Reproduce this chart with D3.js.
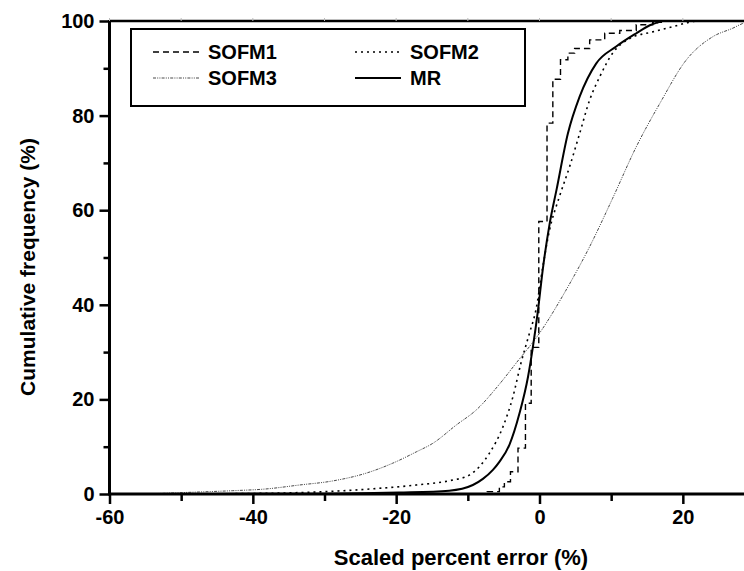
<!DOCTYPE html>
<html>
<head>
<meta charset="utf-8">
<script src="https://cdn.jsdelivr.net/npm/d3@7"></script>
<style>
  body { margin: 0; background: #fff; }
  svg { display: block; }
  text { font-family: "Liberation Sans", Arial, sans-serif; font-weight: bold; fill: #000; }
</style>
</head>
<body>
<svg id="chart" width="744" height="571"></svg>
<script>
// cumulative frequency curves, [scaled percent error, cumulative %]
const sofm1 = [[-60, 0], [-7.3, 0.5], [-5.6, 1.5], [-4.9, 2.6], [-4.05, 4.7], [-3.0, 9.7], [-1.96, 19.2],
  [-1.16, 31], [-0.1, 57.6], [1.05, 78.4], [1.86, 87.7], [2.93, 91.8], [3.96, 93.2], [4.9, 94.2],
  [7.0, 96], [9.1, 97.4], [11.2, 98], [13.5, 99.2], [15.8, 99.7], [17, 100], [30, 100]];
const sofm2 = [[-60, 0], [-45, 0.05], [-33.5, 0.3], [-24.2, 1.0], [-17.2, 1.9], [-12.6, 2.8], [-9.8, 4],
  [-7, 8.6], [-5.1, 14.2], [-3.7, 20.6], [-2.6, 27.6], [-1.4, 34], [-0.5, 38.9], [0.46, 48], [1.4, 55.8],
  [2.7, 62.5], [4.2, 69.2], [5.6, 76.2], [7, 83.3], [8.4, 88.2], [10.2, 93.2], [12.6, 96.3],
  [15.8, 97.7], [18.6, 98.8], [20.3, 99.5], [22, 100], [30, 100]];
const sofm3 = [[-55, 0], [-49.8, 0.3], [-42.8, 0.7], [-38.2, 1.06], [-33.5, 1.9], [-28.9, 2.75],
  [-24.2, 4.4], [-20.5, 6.5], [-17.2, 8.9], [-14.9, 10.7], [-11.6, 14.6], [-8.8, 17.8], [-5.6, 23.2],
  [-3.3, 27.6], [0, 34], [3.7, 43.1], [7, 52.3], [10.2, 62.5], [13.5, 73.4], [16.8, 82.6],
  [20.5, 91.8], [24.2, 96.7], [27, 98.5], [28.4, 99.5], [30, 100]];
const mr = [[-60, 0], [-30, 0.05], [-19.6, 0.3], [-12.6, 0.7], [-9.3, 1.9], [-7.9, 3.2], [-6.5, 5.1],
  [-5.6, 6.8], [-4.2, 10.4], [-2.8, 17], [-1.6, 24.8], [-0.93, 31], [-0.24, 38.5], [0.46, 47.5],
  [1.4, 57], [2.4, 64.5], [3.96, 76.2], [5.6, 84], [7.9, 91], [10.7, 94.6], [13.5, 97.4],
  [15.4, 99.1], [16.3, 99.6], [17.2, 100], [30, 100]];

const seriesNames = ["SOFM1", "SOFM2", "SOFM3", "MR"];
const xMajorTicks = [-60, -40, -20, 0, 20];
const xMinorTicks = [-50, -30, -10, 10];
const yMajorTicks = [0, 20, 40, 60, 80, 100];
const yMinorTicks = [10, 30, 50, 70, 90];
const xTitle = "Scaled percent error (%)";
const yTitle = "Cumulative frequency (%)";

const svg = d3.select("#chart");
const x = d3.scaleLinear().domain([-60, 30]).range([109.5, 754.5]);
const y = d3.scaleLinear().domain([0, 100]).range([494, 21]);

/* curves first so the axes sit over the flat ends */
const styles = {
    SOFM1: { data: sofm1, curve: d3.curveStepAfter, width: 1.4, dash: "6,4", color: "#000" },
    SOFM2: { data: sofm2, curve: d3.curveMonotoneX, width: 1.6, dash: "2,4", color: "#000" },
    SOFM3: { data: sofm3, curve: d3.curveMonotoneX, width: 0.9, dash: "3,1.2,1,1.2,1,1.2", color: "#333" },
    MR: { data: mr, curve: d3.curveMonotoneX, width: 2, dash: null, color: "#000" }
};

const curves = svg.append("g").attr("id", "curves");
seriesNames.forEach(name => {
    const s = styles[name];
    curves.append("path")
        .datum(s.data)
        .attr("fill", "none")
        .attr("stroke", s.color)
        .attr("stroke-width", s.width)
        .attr("stroke-dasharray", s.dash)
        .attr("d", d3.line().x(d => x(d[0])).y(d => y(d[1])).curve(s.curve));
});

// axes, plain hyphen for negatives like the original
const fmt = d => String(d);
svg.append("g").attr("transform", `translate(0,${y(0)})`)
    .call(d3.axisBottom(x).tickValues(xMajorTicks).tickSize(10).tickPadding(6).tickFormat(fmt));
svg.append("g").attr("transform", `translate(0,${y(0)})`)
    .call(d3.axisBottom(x).tickValues(xMinorTicks).tickSize(7).tickFormat(""));

svg.append("g").attr("transform", `translate(${x(-60)},0)`)
    .call(d3.axisLeft(y).tickValues(yMajorTicks).tickSize(10).tickPadding(5).tickFormat(fmt));
svg.append("g").attr("transform", `translate(${x(-60)},0)`)
    .call(d3.axisLeft(y).tickValues(yMinorTicks).tickSize(6).tickFormat(""));

svg.selectAll(".domain").remove();
svg.selectAll(".tick line").attr("stroke", "#000").attr("stroke-width", 2.5);
svg.selectAll(".tick text").style("font-size", "20px").attr("fill", "#000");

// axis lines
svg.append("line").attr("x1", x(-60)).attr("x2", 744).attr("y1", y(0)).attr("y2", y(0))
    .attr("stroke", "#000").attr("stroke-width", 3);
svg.append("line").attr("x1", x(-60)).attr("x2", x(-60)).attr("y1", y(100) - 1).attr("y2", y(0) + 1.5)
    .attr("stroke", "#000").attr("stroke-width", 3);
svg.append("line").attr("x1", x(-60)).attr("x2", 744).attr("y1", y(100)).attr("y2", y(100))
    .attr("stroke", "#000").attr("stroke-width", 2.5);
svg.append("g").selectAll("line")
    .data(xMajorTicks.concat(xMinorTicks))
    .enter()
    .append("line")
    .attr("x1", d => x(d)).attr("x2", d => x(d))
    .attr("y1", y(100) - 3).attr("y2", y(100))
    .attr("stroke", "#bbb").attr("stroke-width", 1);

// titles
svg.append("text").attr("x", 461).attr("y", 565).attr("text-anchor", "middle")
    .style("font-size", "22px").text(xTitle);
svg.append("text").attr("transform", "translate(35,267) rotate(-90)").attr("text-anchor", "middle")
    .style("font-size", "21px").text(yTitle);

// legend
const legend = svg.append("g").attr("id", "legend");
legend.append("rect").attr("x", 131).attr("y", 29).attr("width", 394).attr("height", 77)
    .attr("fill", "#fff").attr("stroke", "#000").attr("stroke-width", 2);
const legendPos = {
    SOFM1: { lx: 153, tx: 208, cy: 52 },
    SOFM2: { lx: 355, tx: 410, cy: 52 },
    SOFM3: { lx: 153, tx: 208, cy: 78 },
    MR: { lx: 355, tx: 410, cy: 78 }
};
seriesNames.forEach(name => {
    const s = styles[name];
    const p = legendPos[name];
    legend.append("line")
        .attr("x1", p.lx).attr("x2", p.lx + 46).attr("y1", p.cy).attr("y2", p.cy)
        .attr("stroke", s.color).attr("stroke-width", s.width)
        .attr("stroke-dasharray", s.dash);
    legend.append("text").attr("x", p.tx).attr("y", p.cy + 7).style("font-size", "20px").text(name);
});
</script>
</body>
</html>
